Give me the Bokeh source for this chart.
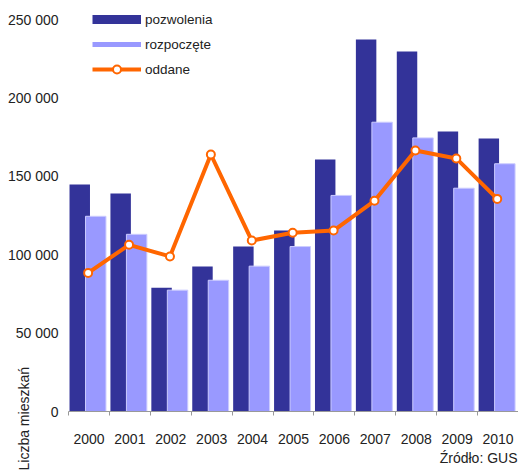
import numpy as np
from bokeh.plotting import figure
from bokeh.models import (ColumnDataSource, FixedTicker, Range1d, Legend, LegendItem, Label)
from bokeh.transform import dodge
from bokeh.embed import file_html
from bokeh.resources import INLINE

years = ["2000", "2001", "2002", "2003", "2004", "2005", "2006", "2007", "2008", "2009", "2010"]
pozwolenia = [144800, 139000, 79000, 92500, 105200, 115400, 160700, 237200, 229600, 178600, 174100]
rozpoczete = [124500, 113000, 77400, 83700, 92700, 105200, 137800, 184500, 174500, 142400, 158000]
oddane = [88400, 106300, 98900, 163900, 109000, 114000, 115400, 134400, 166500, 161400, 135600]
y_ticks = [0, 50000, 100000, 150000, 200000, 250000]
y_tick_labels = ["0", "50 000", "100 000", "150 000", "200 000", "250 000"]
series_names = ["pozwolenia", "rozpoczęte", "oddane"]
y_title = "Liczba mieszkań"
source_note = "Źródło: GUS"

DARK = "#333399"
LIGHT = "#9999ff"
ORANGE = "#ff6600"
FONT = "Liberation Sans"
TXT = "#222222"

W, H = 518, 471            # canvas size (whole window)
PLOT_L, PLOT_B = 68, 411   # pixel of the axes' origin on the canvas
PLOT_T = 19                # pixel of the 250 000 line

n = len(years)
centers = np.arange(n) + 0.5
src = ColumnDataSource(dict(x=centers, year=years, poz=pozwolenia, roz=rozpoczete, odd=oddane))

# the frame covers the whole canvas; axes are pinned at x=0 / y=0
px_x = (W - PLOT_L) / n
px_y = (PLOT_B - PLOT_T) / y_ticks[-1]
x_range = Range1d(-PLOT_L / px_x, n)
y_range = Range1d(-(H - PLOT_B) / px_y, PLOT_B / px_y)

p = figure(width=W, height=H, output_backend="svg", toolbar_location=None,
           x_range=x_range, y_range=y_range,
           min_border_left=0, min_border_right=0, min_border_top=0, min_border_bottom=0)
p.outline_line_color = None
p.xgrid.visible = False
p.ygrid.visible = False

r_dark = p.vbar(x=dodge("x", -0.225), top="poz", width=0.5, source=src,
                fill_color=DARK, line_color=None)
r_light = p.vbar(x=dodge("x", 0.166), top="roz", width=0.5, source=src,
                 fill_color=LIGHT, line_color="#ccccff", line_width=1)
r_line = p.line(x=dodge("x", -0.02), y="odd", source=src, line_color=ORANGE, line_width=4)
r_pts = p.scatter(x=dodge("x", -0.02), y="odd", source=src, size=8, marker="circle",
                  fill_color="white", line_color=ORANGE, line_width=2)

# legend-only swatches (no drawable data)
lg_dark = p.line(x=[np.nan], y=[np.nan], line_color=DARK, line_width=9)
lg_light = p.line(x=[np.nan], y=[np.nan], line_color=LIGHT, line_width=5)

legend = Legend(items=[
    LegendItem(label=series_names[0], renderers=[lg_dark]),
    LegendItem(label=series_names[1], renderers=[lg_light]),
    LegendItem(label=series_names[2], renderers=[r_line, r_pts]),
], location=(92, H - 79), glyph_width=49, glyph_height=20, label_height=20, spacing=5,
    padding=0, margin=0, label_standoff=4, border_line_color=None, background_fill_alpha=0,
    label_text_font=FONT, label_text_font_size="13.5px", label_text_color=TXT)
p.add_layout(legend, "center")

# x axis, pinned at y = 0
p.xaxis.fixed_location = 0
p.xaxis.bounds = (0, n)
p.xaxis.ticker = FixedTicker(ticks=list(centers), minor_ticks=list(range(n + 1)))
p.xaxis.major_label_overrides = {float(c): y for c, y in zip(centers, years)}
p.xaxis.major_tick_line_color = None
p.xaxis.major_tick_out = 0
p.xaxis.major_tick_in = 0
p.xaxis.minor_tick_line_color = "#999999"
p.xaxis.minor_tick_out = 4
p.xaxis.minor_tick_in = 0
p.xaxis.axis_line_color = "#999999"
p.xaxis.major_label_standoff = 18
p.xaxis.major_label_text_font = FONT
p.xaxis.major_label_text_font_size = "14px"
p.xaxis.major_label_text_color = TXT

# y axis, pinned at x = 0
p.yaxis.fixed_location = 0
p.yaxis.bounds = (0, y_ticks[-1])
p.yaxis.ticker = FixedTicker(ticks=y_ticks)
p.yaxis.major_label_overrides = {t: l for t, l in zip(y_ticks, y_tick_labels)}
p.yaxis.axis_line_color = None
p.yaxis.major_tick_line_color = None
p.yaxis.minor_tick_line_color = None
p.yaxis.major_tick_out = 0
p.yaxis.major_label_standoff = 10
p.yaxis.major_label_text_font = FONT
p.yaxis.major_label_text_font_size = "14px"
p.yaxis.major_label_text_color = TXT

p.add_layout(Label(x=23, y=1, x_units="screen", y_units="screen", angle=np.pi / 2,
                   text=y_title, text_align="left", text_baseline="alphabetic",
                   text_font=FONT, text_font_size="14px", text_color=TXT))
p.add_layout(Label(x=W - 1, y=H - 457, x_units="screen", y_units="screen",
                   text=source_note, text_align="right", text_baseline="middle",
                   text_font=FONT, text_font_size="14px", text_color=TXT))

open("out.html", "w").write(file_html(p, INLINE))
